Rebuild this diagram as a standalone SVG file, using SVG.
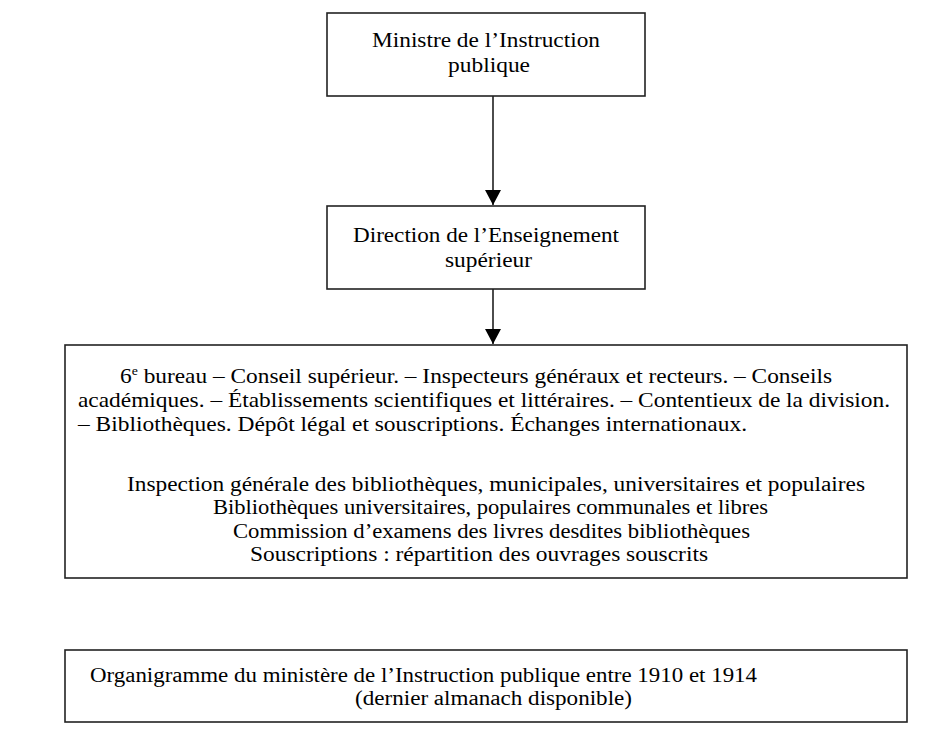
<svg xmlns="http://www.w3.org/2000/svg" width="950" height="739" viewBox="0 0 950 739">
<defs>
<marker id="ah" markerWidth="16" markerHeight="16" refX="15" refY="8" orient="auto" markerUnits="userSpaceOnUse" viewBox="0 0 16 16"><path d="M0,0 L15,8 L0,16 Z" fill="#000"/></marker>
</defs>
<style>
.box{fill:#fff;stroke:#222;stroke-width:1.6}
.t{font-family:"Liberation Serif","Times New Roman",serif;font-size:22px;fill:#000}
.s{font-size:20px}
.c{stroke:#000;stroke-width:1.4;fill:none}
</style>
<rect width="950" height="739" fill="#fff"/>
<g id="connectors">
<line class="c" x1="493" y1="96" x2="493" y2="205" marker-end="url(#ah)"/>
<line class="c" x1="493" y1="289" x2="493" y2="344" marker-end="url(#ah)"/>
</g>
<g id="n1">
<rect class="box" x="327" y="13" width="318" height="83"/>
<text class="t" x="372" y="47" textLength="228" lengthAdjust="spacingAndGlyphs">Ministre de l’Instruction</text>
<text class="t" x="448" y="72" textLength="82" lengthAdjust="spacingAndGlyphs">publique</text>
</g>
<g id="n2">
<rect class="box" x="327" y="206" width="318" height="83"/>
<text class="t" x="353" y="242" textLength="266" lengthAdjust="spacingAndGlyphs">Direction de l’Enseignement</text>
<text class="t" x="445" y="267" textLength="87" lengthAdjust="spacingAndGlyphs">supérieur</text>
</g>
<g id="n3">
<rect class="box" x="65" y="345" width="842" height="233"/>
<text class="t" x="120" y="383" textLength="712" lengthAdjust="spacingAndGlyphs">6<tspan font-size="13" dy="-8">e</tspan><tspan dy="8"> bureau – Conseil supérieur. – Inspecteurs généraux et recteurs. – Conseils</tspan></text>
<text class="t" x="78" y="407" textLength="812" lengthAdjust="spacingAndGlyphs">académiques. – Établissements scientifiques et littéraires. – Contentieux de la division.</text>
<text class="t" x="78" y="431" textLength="669" lengthAdjust="spacingAndGlyphs">– Bibliothèques. Dépôt légal et souscriptions.  Échanges internationaux.</text>
<text class="t s" x="127" y="491" textLength="738" lengthAdjust="spacingAndGlyphs">Inspection générale des bibliothèques, municipales, universitaires et populaires</text>
<text class="t s" x="213" y="514" textLength="555" lengthAdjust="spacingAndGlyphs">Bibliothèques universitaires, populaires communales et libres</text>
<text class="t s" x="233" y="538" textLength="517" lengthAdjust="spacingAndGlyphs">Commission d’examens des livres desdites bibliothèques</text>
<text class="t s" x="250" y="561" textLength="458" lengthAdjust="spacingAndGlyphs">Souscriptions : répartition des ouvrages souscrits</text>
</g>
<g id="n4">
<rect class="box" x="65" y="650" width="842" height="72"/>
<text class="t s" x="90" y="682" textLength="667" lengthAdjust="spacingAndGlyphs">Organigramme du ministère de l’Instruction publique entre 1910 et 1914</text>
<text class="t s" x="355" y="705" textLength="277" lengthAdjust="spacingAndGlyphs">(dernier almanach disponible)</text>
</g>
</svg>
